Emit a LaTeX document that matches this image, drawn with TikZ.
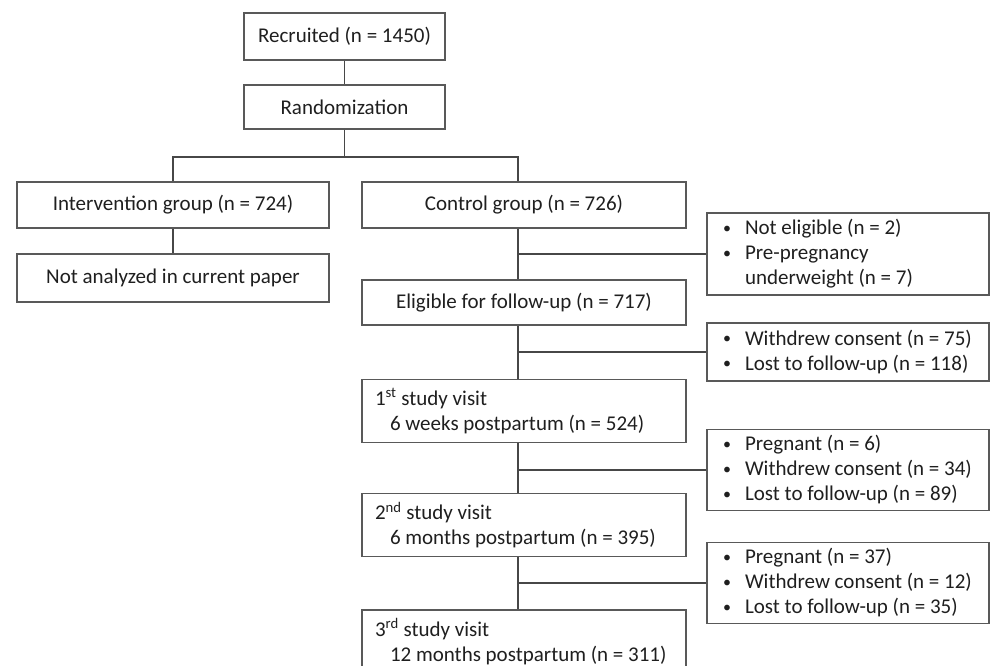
\documentclass[tikz,border=0pt]{standalone}
\usepackage{fontspec}
\setmainfont{Carlito}
\begin{document}
\begin{tikzpicture}[x=1pt,y=-1pt,
    caja/.style={draw=black!65, line width=1.4pt, fill=white, text=black!88,
        inner sep=0pt, font=\fontsize{21}{25}\selectfont},
    visita/.style={caja, align=flush left, text width=298pt, inner xsep=13pt, minimum height=63pt},
    lateral/.style={caja, align=flush left, text width=250pt, inner xsep=16pt},
    linea/.style={draw=black!72, line width=1.9pt}]
    \useasboundingbox (0,0) rectangle (990,666);
    \newcommand{\punto}{\makebox[22pt][l]{\raisebox{1.5pt}{\fontsize{16}{16}\selectfont •}}}

    % Parte superior: reclutamiento y aleatorizacion
    \node[caja, minimum width=201pt, minimum height=47pt] (reclut) at (344.5,36.5) {Recruited (n = 1450)};
    \node[caja, minimum width=201pt, minimum height=44pt] (aleat) at (344.5,107) {Randomization};

    % Los dos grupos
    \node[caja, minimum width=312pt, minimum height=46pt] (interv) at (173,205) {Intervention group (n = 724)};
    \node[caja, minimum width=312pt, minimum height=48pt] (noanal) at (173,278) {Not analyzed in current paper};
    \node[caja, minimum width=324pt, minimum height=46pt] (control) at (524,205) {Control group (n = 726)};

    % Columna del grupo control
    \node[caja, minimum width=324pt, minimum height=45pt] (eleg) at (524,302.5) {Eligible for follow-up (n = 717)};
    \node[visita] (visita1) at (524,411) {1\textsuperscript{st} study visit\\\hspace*{15pt}6 weeks postpartum (n = 524)};
    \node[visita] (visita2) at (524,525) {2\textsuperscript{nd} study visit\\\hspace*{15pt}6 months postpartum (n = 395)};
    \node[visita] (visita3) at (524,641.5) {3\textsuperscript{rd} study visit\\\hspace*{15pt}12 months postpartum (n = 311)};

    % Cajas de exclusiones
    \node[lateral, minimum height=82pt] (lat1) at (848,254) {\punto Not eligible (n = 2)\\\punto Pre-pregnancy\\\hspace*{22pt}underweight (n = 7)};
    \node[lateral, minimum height=58pt] (lat2) at (848,352) {\punto Withdrew consent (n = 75)\\\punto Lost to follow-up (n = 118)};
    \node[lateral, minimum height=81pt] (lat3) at (848,470) {\punto Pregnant (n = 6)\\\punto Withdrew consent (n = 34)\\\punto Lost to follow-up (n = 89)};
    \node[lateral, minimum height=81pt] (lat4) at (848,583) {\punto Pregnant (n = 37)\\\punto Withdrew consent (n = 12)\\\punto Lost to follow-up (n = 35)};

    % Conexiones
    \coordinate (rama) at (344.5,157);
    \coordinate (tronco) at (518,157);
    \draw[linea] (reclut.south) -- (aleat.north);
    \draw[linea] (aleat.south) -- (rama);
    \draw[linea] (interv.north) |- (tronco) -- (control.north -| tronco);
    \draw[linea] (interv.south) -- (noanal.north);
    \foreach \a/\b in {control/eleg, eleg/visita1, visita1/visita2, visita2/visita3} {
        \draw[linea] (\a.south -| tronco) -- (\b.north -| tronco);
    }
    \foreach \l in {lat1,lat2,lat3,lat4} {
        \draw[linea] (\l.west) -- (\l.west -| tronco);
    }
\end{tikzpicture}
\end{document}
